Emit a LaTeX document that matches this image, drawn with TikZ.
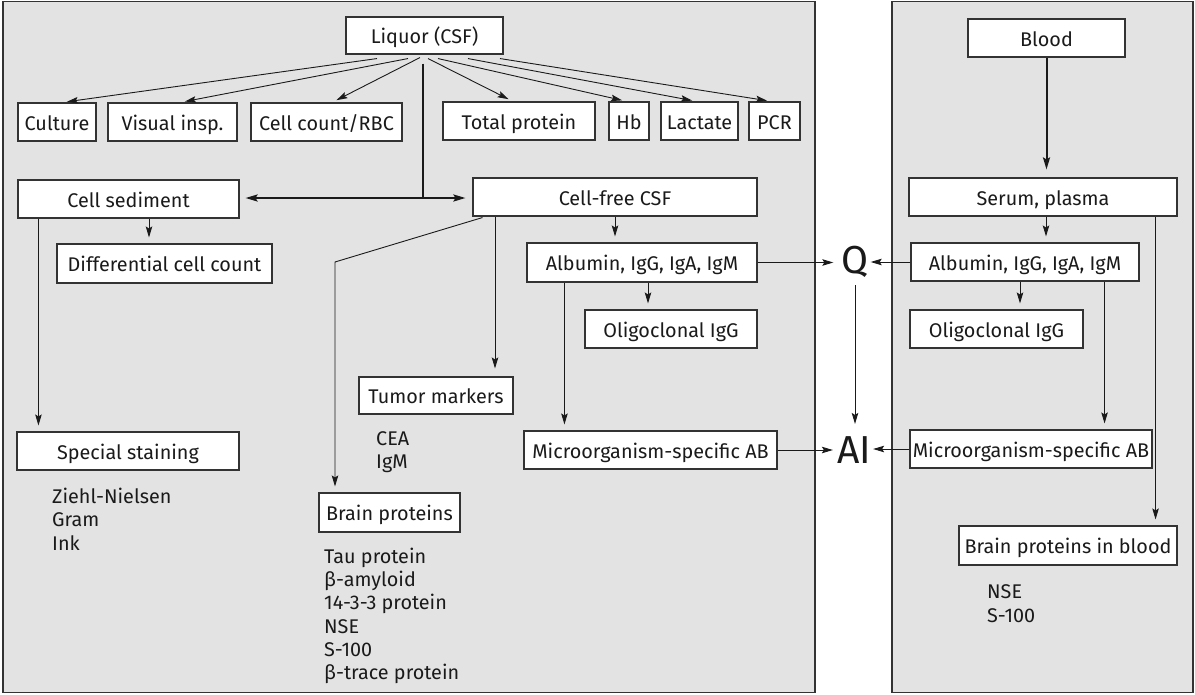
\documentclass[tikz,border=0pt]{standalone}
\usepackage{fontspec}
\setmainfont{Fira Sans}
\usetikzlibrary{arrows.meta,calc}
\definecolor{panel}{HTML}{E3E3E3}
\definecolor{ink}{HTML}{1A1A1A}
\definecolor{edge}{HTML}{333333}
\begin{document}
\begin{tikzpicture}[x=1pt,y=-1pt,
  box/.style={draw=edge,line width=1.1pt,fill=white,inner sep=0pt,minimum height=38pt,
    text height=16pt,text depth=0pt,font=\fontsize{19.8}{23}\selectfont,text=ink},
  arr/.style={draw=ink,line width=0.9pt,-{Stealth[length=11pt,width=6.5pt,inset=2pt]},shorten >=6pt},
  thk/.style={draw=ink,line width=2pt},
  lst/.style={anchor=base west,inner sep=0pt,font=\fontsize{19.8}{23}\selectfont,text=ink},
  big/.style={anchor=base,inner sep=0pt,font=\fontsize{39}{40}\selectfont,text=ink},
  pan/.style={fill=panel,draw=edge,line width=1.2pt}]
\useasboundingbox (0,0) rectangle (1195,694);
\fill[white] (0,0) rectangle (1195,694);
% panels
\draw[pan] (3,1.5) rectangle (815,692.5);
\draw[pan] (892,1.5) rectangle (1193,692.5);

% left panel boxes
\node[box,minimum width=157pt,minimum height=37pt] (liq) at (424.5,35.5) {Liquor (CSF)};
\node[box,minimum width=78pt] (cult) at (57,122) {Culture};
\node[box,minimum width=129pt] (vis) at (172.5,122) {Visual insp.};
\node[box,minimum width=151pt] (cc) at (326.5,122) {Cell count/RBC};
\node[box,minimum width=152pt] (tp) at (519,121) {Total protein};
\node[box,minimum width=40pt] (hb) at (629,121) {Hb};
\node[box,minimum width=77pt] (lac) at (699.5,121) {Lactate};
\node[box,minimum width=51pt] (pcr) at (774.5,121) {PCR};
\node[box,minimum width=221pt] (sed) at (128.5,199) {Cell sediment};
\node[box,minimum width=284pt] (cfree) at (615,197) {Cell-free CSF};
\node[box,minimum width=215pt,minimum height=39pt] (diff) at (164.5,263.5) {Differential cell count};
\node[box,minimum width=230pt,minimum height=39pt] (albL) at (642,262.5) {Albumin, IgG, IgA, IgM};
\node[box,minimum width=172pt] (oligL) at (671,329) {Oligoclonal IgG};
\node[box,minimum width=154pt,minimum height=37pt] (tum) at (436,395.5) {Tumor markers};
\node[box,minimum width=253pt] (microL) at (650.5,450) {Microorganism-specific AB};
\node[box,minimum width=222pt] (stain) at (128,451) {Special staining};
\node[box,minimum width=141pt,minimum height=39pt] (brain) at (389.5,512.5) {Brain proteins};

% right panel boxes
\node[box,minimum width=157pt] (blood) at (1046.5,38) {Blood};
\node[box,minimum width=268pt] (serum) at (1043,197) {Serum, plasma};
\node[box,minimum width=228pt] (albR) at (1025,262) {Albumin, IgG, IgA, IgM};
\node[box,minimum width=173pt] (oligR) at (996.5,329) {Oligoclonal IgG};
\node[box,minimum width=242pt] (microR) at (1031,449) {Microorganism-specific AB};
\node[box,minimum width=218pt,minimum height=39pt] (brainB) at (1068,545.5) {Brain proteins in blood};

% Q and AI
\node[big] (Q) at (855,273) {Q};
\node[big] (AI) at (854,463) {AI};

% lists
\node[lst] (z1) at (52,503) {Ziehl-Nielsen};
\node[lst] (z2) at (52,526) {Gram};
\node[lst] (z3) at (52,550) {Ink};
\node[lst] (t1) at (376,445) {CEA};
\node[lst] (t2) at (376,468) {IgM};
\node[lst] (b1) at (324,563) {Tau protein};
\node[lst] (b2) at (324,586) {β-amyloid};
\node[lst] (b3) at (324,609) {14-3-3 protein};
\node[lst] (b4) at (324,633) {NSE};
\node[lst] (b5) at (324,656) {S-100};
\node[lst] (b6) at (324,679) {β-trace protein};
\node[lst] (r1) at (987,598) {NSE};
\node[lst] (r2) at (987,622) {S-100};

% Liquor fan
\draw[arr,shorten >=5pt] ($(liq.south)+(-47.5,4)$) -- ($(cult.north)+(5,0)$);
\draw[arr,shorten >=5pt] ($(liq.south)+(-16.5,4)$) -- ($(vis.north)+(7.5,0)$);
\draw[arr,shorten >=5pt] ($(liq.south)+(-4.5,3)$) -- ($(cc.north)+(5.5,0)$);
\draw[arr,shorten >=5pt] ($(liq.south)+(3.5,4)$) -- ($(tp.north)+(-6,0)$);
\draw[arr,shorten >=5pt] ($(liq.south)+(13.5,4)$) -- ($(hb.north)+(-2,0)$);
\draw[arr,shorten >=5pt] ($(liq.south)+(43.5,4)$) -- ($(lac.north)+(-2.5,0)$);
\draw[arr,shorten >=5pt] ($(liq.south)+(75.5,4)$) -- ($(pcr.north)+(-2.5,0)$);

% thick split
\coordinate (j) at (423,198);
\draw[thk] ($(liq.south)+(-1.5,9)$) -- (j);
\draw[thk,{Stealth[length=12pt,width=7pt,inset=2pt]}-{Stealth[length=12pt,width=7pt,inset=2pt]}]
  ($(sed.east)+(6,-1)$) -- ($(cfree.west)+(-7,1)$);

% cell sediment
\coordinate (s1) at ($(sed.south)+(20.5,0)$);
\draw[arr] (s1) -- (s1 |- diff.north);
\coordinate (s2) at ($(sed.south west)+(21,0)$);
\draw[arr] (s2) -- (s2 |- stain.north);

% cell-free CSF
\draw[arr] (cfree.south) -- (cfree.south |- albL.north);
\coordinate (c1) at ($(cfree.south)+(-120,0)$);
\draw[arr,shorten >=8pt] (c1) -- (c1 |- tum.north);
\coordinate (bend) at (335,262);
\draw[arr] ($(cfree.south west)+(10,1)$) -- (bend) -- (bend |- brain.north);

% albumin left
\coordinate (a1) at ($(albL.south)+(6,0)$);
\draw[arr] (a1) -- (a1 |- oligL.north);
\coordinate (a2) at ($(albL.south west)+(38,0)$);
\draw[arr] (a2) -- (a2 |- microL.north);
\draw[arr,shorten >=8pt] (albL.east) -- (albL.east -| Q.west);
\draw[arr,shorten >=4pt] (microL.east) -- (microL.east -| AI.west);

% Q -> AI
\draw[arr,shorten <=8pt,shorten >=12pt] (Q.south) -- (Q.south |- AI.north);

% right panel
\draw[thk,-{Stealth[length=12pt,width=7pt,inset=2pt]},shorten >=8pt] (blood.south) -- (blood.south |- serum.north);
\coordinate (r0) at ($(serum.south)+(3,0)$);
\draw[arr] (r0) -- (r0 |- albR.north);
\coordinate (ra) at ($(albR.south)+(-5,0)$);
\draw[arr] (ra) -- (ra |- oligR.north);
\coordinate (rb) at ($(albR.south east)+(-35,0)$);
\draw[arr] (rb) -- (rb |- microR.north);
\coordinate (rs) at ($(serum.south east)+(-22,0)$);
\draw[arr] (rs) -- (rs |- brainB.north);
\draw[arr,shorten >=2pt] (albR.west) -- (albR.west -| Q.east);
\draw[arr,shorten >=2pt] (microR.west) -- (microR.west -| AI.east);
\end{tikzpicture}
\end{document}
